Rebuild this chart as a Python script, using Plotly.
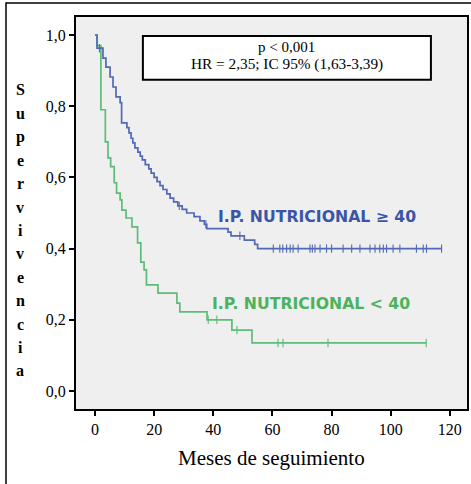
import plotly.graph_objects as go

# ---------------- data ----------------
# Kaplan-Meier step curve: IP nutricional >= 40 (blue)
blue_t = [0, 0.7, 2.7, 3.7, 5.1, 6.1, 7.1, 8.5, 9.0, 10.8, 11.5, 12.2, 12.8, 13.5,
          14.5, 15.3, 16.0, 17.0, 18.2, 19.0, 20.0, 21.0, 22.0, 23.0, 24.3, 25.4,
          26.6, 28.0, 29.5, 31.0, 33.5, 35.5, 37.0, 37.8, 45.0, 46.0, 50.5, 54.0, 55.0]
blue_s = [1.0, 0.963, 0.935, 0.91, 0.882, 0.854, 0.826, 0.81, 0.753, 0.74, 0.725, 0.71,
          0.697, 0.683, 0.671, 0.66, 0.649, 0.636, 0.624, 0.612, 0.6, 0.588, 0.577,
          0.566, 0.554, 0.542, 0.531, 0.52, 0.51, 0.5, 0.49, 0.478, 0.468, 0.456,
          0.446, 0.436, 0.424, 0.412, 0.40]
blue_end = 117.2
blue_cens = [1.5, 28.5, 37.5, 49.0, 60.3, 62.5, 63.5, 64.8, 66.0, 67.0, 68.7, 72.7,
             73.5, 74.4, 76.1, 78.3, 80.0, 83.9, 86.8, 89.6, 93.0, 94.7, 96.3, 97.5,
             98.6, 100.8, 103.1, 108.7, 111.0, 112.1, 117.2]

# Kaplan-Meier step curve: IP nutricional < 40 (green)
green_t = [0, 0.7, 2.0, 3.5, 4.4, 5.3, 6.5, 7.3, 8.5, 9.1, 10.5, 12.5, 14.4, 15.5,
           16.6, 17.4, 21.3, 27.7, 28.7, 37.9, 46.3, 53.1]
green_s = [1.0, 0.97, 0.79, 0.70, 0.655, 0.63, 0.585, 0.556, 0.537, 0.508, 0.486,
           0.461, 0.416, 0.362, 0.34, 0.298, 0.275, 0.247, 0.222, 0.20, 0.171, 0.135]
green_end = 112.0
green_cens = [38.3, 41.2, 48.0, 61.9, 63.6, 78.8, 112.0]

x_ticks = [0, 20, 40, 60, 80, 100, 120]
y_ticks = [0.0, 0.2, 0.4, 0.6, 0.8, 1.0]
y_ticklabels = ["0,0", "0,2", "0,4", "0,6", "0,8", "1,0"]

label_hi = "I.P. NUTRICIONAL ≥ 40"
label_lo = "I.P. NUTRICIONAL < 40"
stats_lines = ["p < 0,001", "HR = 2,35; IC 95% (1,63-3,39)"]
x_title = "Meses de seguimiento"
y_title = "Supervivencia"

BLUE_LINE = "#5169b6"
BLUE_TEXT = "#3b55a6"
GREEN_LINE = "#5dbd78"
GREEN_TEXT = "#4db25c"


def surv_at(ts, ss, t):
    s = ss[0]
    for ti, si in zip(ts, ss):
        if ti <= t:
            s = si
    return s


fig = go.Figure()

for ts, ss, end, cens, col in [(green_t, green_s, green_end, green_cens, GREEN_LINE),
                               (blue_t, blue_s, blue_end, blue_cens, BLUE_LINE)]:
    fig.add_trace(go.Scatter(x=ts + [end], y=ss + [ss[-1]], mode="lines",
                             line=dict(color=col, width=1.7, shape="hv"),
                             showlegend=False, hoverinfo="skip"))
    fig.add_trace(go.Scatter(x=cens, y=[surv_at(ts, ss, c) for c in cens],
                             mode="markers",
                             marker=dict(symbol="line-ns", size=6,
                                         line=dict(color=col, width=1.1)),
                             showlegend=False, hoverinfo="skip"))

serif = "Liberation Serif, Times New Roman, serif"

fig.update_layout(
    width=471, height=484,
    margin=dict(l=76, r=4, t=17, b=75, autoexpand=False),
    paper_bgcolor="white",
    plot_bgcolor="#efefef",
    font=dict(family=serif, color="black", size=16),
    xaxis=dict(range=[-6.42, 125.8], tickvals=x_ticks, ticks="outside", ticklen=5,
               tickwidth=1.5, tickcolor="black", showgrid=False, zeroline=False,
               showline=True, linecolor="black", linewidth=2, mirror=True,
               tickfont=dict(family=serif, size=16, color="black")),
    yaxis=dict(range=[-0.0506, 1.0506], tickvals=y_ticks, ticktext=y_ticklabels,
               ticks="outside", ticklen=5, tickwidth=1.5, tickcolor="black",
               showgrid=False, zeroline=False, showline=True, linecolor="black",
               linewidth=2, mirror=True,
               tickfont=dict(family=serif, size=16, color="black")),
)

# outer frame
fig.add_shape(type="rect", xref="paper", yref="paper",
              x0=-0.179, x1=1.05, y0=-0.3, y1=1.0357,
              line=dict(color="black", width=1.5), fillcolor="rgba(0,0,0,0)",
              layer="below")

# stats box
fig.add_shape(type="rect", xref="x", yref="y", x0=16.2, x1=113.6, y0=0.874, y1=0.997,
              line=dict(color="black", width=2), fillcolor="white")
fig.add_annotation(x=64.9, y=0.9677, xref="x", yref="y", text=stats_lines[0],
                   showarrow=False, font=dict(family=serif, size=15, color="black"))
fig.add_annotation(x=64.9, y=0.9185, xref="x", yref="y", text=stats_lines[1],
                   showarrow=False, font=dict(family=serif, size=15.3, color="black"))

# curve labels
fig.add_annotation(x=75.0, y=0.489, xref="x", yref="y", text="<b>%s</b>" % label_hi,
                   showarrow=False,
                   font=dict(family="DejaVu Sans, Verdana, sans-serif", size=15.7, color=BLUE_TEXT))
fig.add_annotation(x=73.2, y=0.247, xref="x", yref="y", text="<b>%s</b>" % label_lo,
                   showarrow=False,
                   font=dict(family="DejaVu Sans, Verdana, sans-serif", size=15.7, color=GREEN_TEXT))

# x title
fig.add_annotation(x=0.501, y=(409 - 458) / 392, xref="paper", yref="paper",
                   xanchor="center", yanchor="middle",
                   text=x_title, showarrow=False,
                   font=dict(family=serif, size=21, color="black"))

# y title: stacked bold letters
for i, ch in enumerate(y_title):
    ypx = 90 + i * 23.4
    fig.add_annotation(x=(20 - 76) / 391, y=(409 - ypx) / 392, xref="paper", yref="paper",
                       xanchor="center", yanchor="middle",
                       text="<b>%s</b>" % ch, showarrow=False,
                       font=dict(family=serif, size=16, color="black"))

fig.write_html("out.html", config={"displayModeBar": False},
               post_script="document.body.style.margin='0px';")
